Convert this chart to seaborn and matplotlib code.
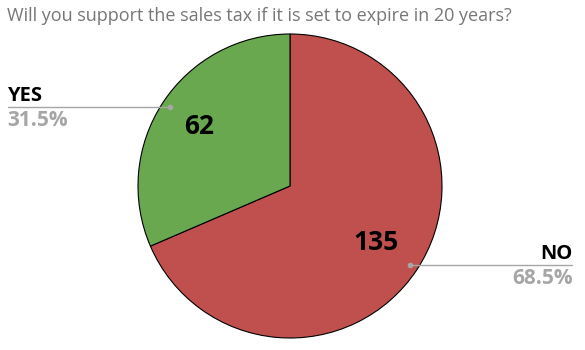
import matplotlib
matplotlib.use("Agg")
import matplotlib.pyplot as plt
import seaborn as sns

categories = ["NO", "YES"]
counts = [135, 62]
percents = ["68.5%", "31.5%"]
colors = ["#C0504D", "#6AA84F"]
title = "Will you support the sales tax if it is set to expire in 20 years?"

sns.set_theme(style="white")
plt.rcParams['font.family'] = ['Open Sans', 'DejaVu Sans']

W, H = 585, 350
fig = plt.figure(figsize=(W/100, H/100), dpi=100)
ax = fig.add_axes([0, 0, 1, 1])

cx, cy, r = 290, H - 186, 152
wedges, _ = ax.pie(counts, colors=colors, startangle=90, counterclock=False,
                   center=(cx, cy), radius=r, frame=True,
                   wedgeprops=dict(edgecolor='black', linewidth=0.8))
ax.set_xlim(0, W)
ax.set_ylim(0, H)
ax.set_aspect('equal')
ax.axis('off')

lbl = dict(fontweight='bold', family=['Open Sans', 'DejaVu Sans'])

# value labels
ax.text(376, H - 243, str(counts[0]), ha='center', va='center', fontsize=19,
        color='black', **lbl)
ax.text(199, H - 127, str(counts[1]), ha='center', va='center', fontsize=19,
        color='black', **lbl)

# leader lines
lc = '#A6A6A6'
ax.plot([170, 8], [H - 107, H - 107], color=lc, lw=1)
ax.plot([170], [H - 107], 'o', color=lc, ms=3)
ax.plot([410, 572], [H - 265, H - 265], color=lc, lw=1)
ax.plot([410], [H - 265], 'o', color=lc, ms=3)

ax.text(7, H - 106, categories[1], ha='left', va='bottom', fontsize=14.5,
        color='black', **lbl)
ax.text(7, H - 110, percents[1], ha='left', va='top', fontsize=15,
        color='#A6A6A6', **lbl)
ax.text(573, H - 264, categories[0], ha='right', va='bottom', fontsize=14.5,
        color='black', **lbl)
ax.text(573, H - 268, percents[0], ha='right', va='top', fontsize=15,
        color='#A6A6A6', **lbl)

ax.text(7, H - 16, title, ha='left', va='center', fontsize=13,
        color='#767676')

fig.savefig('out.png', dpi=100)
